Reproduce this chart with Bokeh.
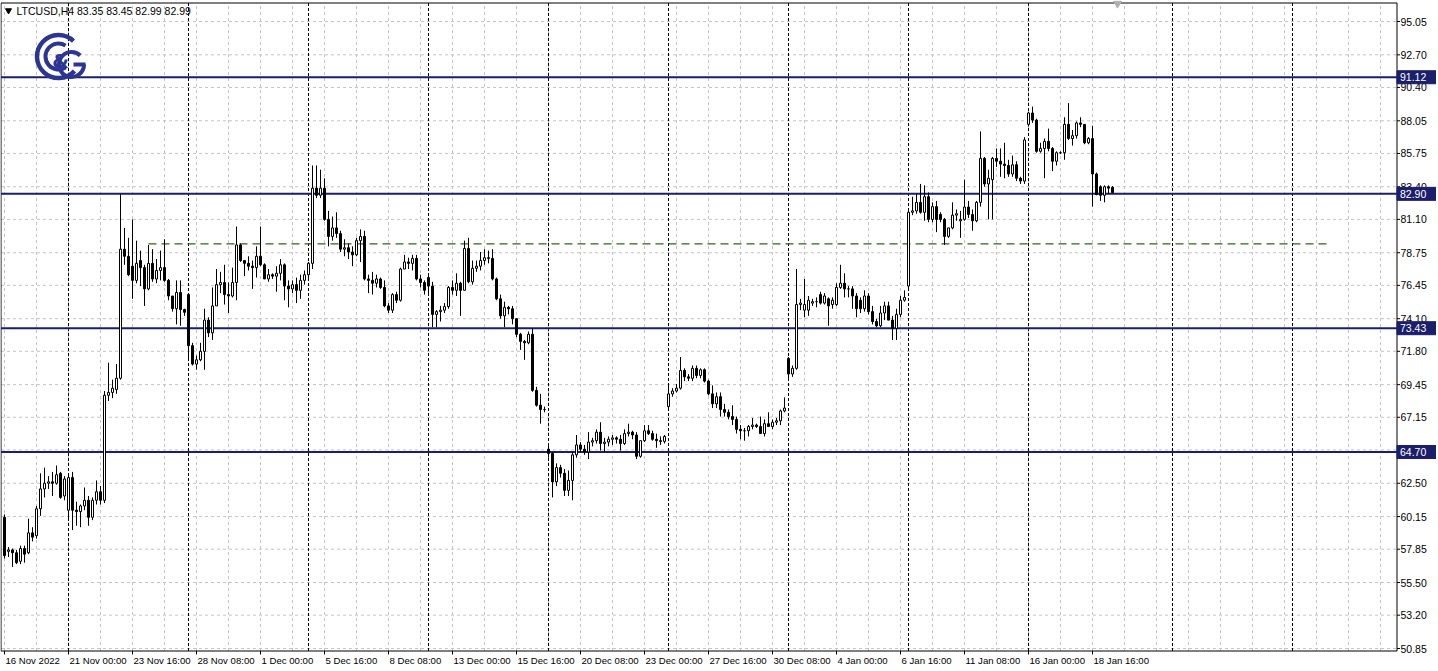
from bokeh.plotting import figure
from bokeh.models import ColumnDataSource, Range1d
from bokeh.embed import file_html
from bokeh.resources import INLINE
from bokeh.core.properties import value

# ---------------- data (LTCUSD, H4) ----------------
opens = [
    60.1, 57.7, 57.8, 57.6, 57.0, 57.9, 57.6, 59.0, 58.8, 60.7,
    62.1, 62.5, 62.6, 62.5, 63.2, 61.6, 60.6, 62.9, 60.6, 60.5,
    60.9, 61.3, 60.1, 61.3, 61.9, 61.3, 68.7, 68.9, 69.1, 69.9,
    79.0, 78.5, 77.8, 76.8, 78.2, 77.7, 76.2, 78.0, 76.9, 77.5,
    77.7, 76.8, 75.7, 74.8, 75.95, 74.75, 75.8, 72.2, 70.9, 71.2,
    71.8, 74.0, 73.1, 75.0, 76.5, 76.65, 75.8, 75.7, 76.65, 79.3,
    78.2, 78.0, 77.8, 77.7, 78.5, 77.9, 76.9, 77.2, 77.1, 77.3,
    77.9, 76.4, 76.2, 76.5, 76.1, 76.8, 77.2, 78.0, 83.3, 82.8,
    83.3, 81.1, 79.9, 80.5, 80.1, 79.0, 79.1, 78.8, 78.6, 79.6,
    79.9, 76.9, 76.8, 76.6, 76.9, 76.3, 75.0, 74.7, 75.8, 75.4,
    77.6, 78.1, 78.0, 78.35, 76.9, 76.65, 77.0, 76.4, 74.4, 74.6,
    74.7, 74.95, 76.3, 76.1, 76.6, 76.1, 79.05, 76.7, 77.65, 77.8,
    78.2, 78.4, 78.35, 76.9, 75.5, 74.3, 74.9, 74.8, 74.1, 73.0,
    72.5, 72.4, 73.0, 69.05, 68.0, 67.7, 64.9, 64.6, 62.6, 63.6,
    63.2, 62.0, 62.7, 64.5, 65.2, 64.9, 64.7, 65.4, 65.5, 66.1,
    65.3, 65.4, 65.6, 65.7, 65.6, 65.3, 66.0, 66.1, 65.9, 64.4,
    65.5, 66.2, 66.0, 65.6, 65.5, 65.45, 67.9, 68.8, 69.0, 69.2,
    70.45, 70.0, 69.9, 70.6, 70.1, 70.5, 69.7, 68.8, 68.1, 68.6,
    67.7, 67.5, 67.2, 67.0, 66.3, 66.2, 66.2, 66.5, 66.6, 66.5,
    66.0, 66.7, 66.5, 66.8, 66.9, 67.6, 71.3, 70.2, 70.6, 75.1,
    74.7, 74.7, 75.2, 75.3, 75.8, 75.2, 75.5, 75.1, 75.1, 76.3,
    76.6, 76.2, 76.2, 75.7, 75.4, 74.8, 75.7, 74.6, 73.9, 73.6,
    74.5, 75.0, 74.0, 73.4, 74.4, 75.4, 76.4, 81.6, 81.7, 82.3,
    81.6, 82.7, 81.1, 82.0, 81.45, 81.1, 79.9, 80.5, 81.4, 81.0,
    81.1, 81.97, 81.45, 81.0, 82.3, 85.4, 83.6, 83.9, 85.4, 85.2,
    85.0, 84.9, 84.3, 84.95, 84.0, 83.8, 87.8, 88.6, 88.1, 85.9,
    86.1, 86.6, 86.1, 85.2, 85.8, 85.8, 87.8, 86.8, 87.0, 87.9,
    87.8, 86.5, 86.8, 84.3, 83.4, 82.8, 83.4, 83.35,
]
highs = [
    60.3, 58.0, 57.9, 57.8, 58.1, 58.1, 60.0, 59.4, 60.9, 63.2,
    63.6, 63.0, 63.3, 63.75, 63.3, 63.0, 63.2, 63.3, 61.2, 61.0,
    62.2, 61.6, 61.5, 62.7, 62.3, 69.0, 71.0, 69.8, 70.9, 82.9,
    80.5, 79.8, 81.1, 79.6, 78.9, 77.9, 79.3, 79.0, 78.3, 78.9,
    79.7, 76.9, 75.7, 76.8, 76.8, 74.8, 75.9, 72.4, 71.5, 72.4,
    74.8, 74.2, 76.3, 77.6, 77.4, 77.9, 76.65, 77.7, 80.6, 79.4,
    78.2, 78.5, 78.2, 79.2, 80.6, 78.0, 77.6, 77.3, 77.8, 78.3,
    78.0, 76.8, 76.8, 77.0, 77.2, 77.5, 78.1, 84.9, 84.9, 84.6,
    84.0, 81.7, 81.3, 81.6, 80.3, 79.7, 79.4, 79.2, 79.8, 80.4,
    80.3, 77.2, 77.4, 77.2, 77.0, 76.8, 75.2, 75.9, 76.0, 77.7,
    78.6, 78.4, 78.6, 78.6, 77.2, 76.8, 77.3, 76.7, 74.7, 75.0,
    75.2, 76.4, 76.8, 77.3, 76.7, 79.6, 79.8, 78.2, 78.2, 78.8,
    79.0, 78.9, 79.0, 77.0, 75.8, 75.3, 75.0, 75.0, 74.1, 73.1,
    72.6, 73.2, 73.4, 69.3, 68.8, 67.9, 65.2, 64.7, 63.9, 63.8,
    63.5, 63.4, 64.7, 65.9, 65.4, 65.2, 66.1, 65.7, 66.3, 66.8,
    65.7, 65.8, 65.9, 65.8, 65.9, 66.3, 66.7, 66.2, 66.1, 65.5,
    66.6, 66.6, 66.2, 66.0, 65.8, 65.9, 69.5, 69.2, 69.5, 71.4,
    70.6, 70.2, 70.8, 70.8, 70.6, 70.6, 69.8, 69.4, 68.9, 68.9,
    68.1, 67.7, 68.0, 67.2, 66.6, 66.4, 66.6, 67.1, 66.7, 67.2,
    67.0, 67.5, 67.0, 67.1, 67.7, 68.55, 71.4, 70.8, 77.6, 75.5,
    76.9, 75.7, 75.5, 75.6, 76.0, 75.9, 75.6, 75.6, 76.6, 77.9,
    77.3, 76.4, 76.4, 75.9, 75.6, 76.1, 75.9, 75.0, 74.1, 75.0,
    75.3, 75.3, 74.3, 74.8, 75.7, 76.1, 81.7, 82.7, 82.9, 83.6,
    83.5, 83.0, 82.3, 82.4, 81.6, 81.2, 80.5, 82.3, 81.8, 81.7,
    83.9, 82.4, 81.8, 82.4, 87.3, 85.5, 84.6, 85.5, 86.1, 86.1,
    86.5, 85.3, 85.6, 85.2, 84.1, 86.9, 88.7, 89.05, 88.2, 86.5,
    86.8, 87.5, 86.2, 85.9, 85.9, 88.3, 89.3, 87.4, 88.0, 88.3,
    87.8, 86.9, 87.7, 84.4, 83.5, 83.5, 83.5, 83.45,
]
lows = [
    57.2, 57.3, 56.6, 56.8, 56.8, 56.9, 57.5, 58.4, 58.6, 60.2,
    61.5, 62.1, 61.6, 62.4, 61.4, 61.3, 59.9, 59.2, 59.5, 59.4,
    60.6, 59.5, 59.9, 61.0, 61.0, 61.1, 68.3, 68.5, 68.8, 69.8,
    77.9, 77.1, 75.5, 76.6, 76.4, 75.0, 76.1, 76.7, 76.6, 76.8,
    76.7, 75.4, 74.6, 73.7, 73.6, 74.3, 71.2, 70.8, 70.5, 71.1,
    70.5, 72.8, 72.6, 75.0, 75.9, 75.1, 74.5, 75.6, 75.4, 78.1,
    77.1, 77.5, 76.2, 77.0, 77.8, 76.9, 76.7, 76.9, 76.0, 76.8,
    75.4, 74.9, 75.9, 75.2, 75.5, 76.5, 76.9, 77.6, 82.6, 82.6,
    81.0, 79.2, 79.6, 79.8, 78.8, 78.5, 78.3, 77.8, 78.5, 78.1,
    76.8, 75.9, 75.8, 76.3, 76.2, 74.9, 74.5, 74.5, 75.2, 75.3,
    77.6, 77.6, 77.5, 76.8, 76.3, 75.8, 75.9, 73.5, 73.5, 73.9,
    74.5, 74.8, 75.8, 75.7, 74.3, 76.1, 76.6, 76.5, 77.4, 77.5,
    77.9, 78.0, 76.8, 75.4, 74.1, 73.5, 74.4, 73.7, 72.8, 71.9,
    71.2, 72.3, 68.95, 67.9, 66.7, 67.5, 64.3, 61.5, 62.3, 62.9,
    61.6, 61.6, 61.3, 64.3, 64.7, 64.5, 64.2, 65.1, 65.3, 64.8,
    64.7, 65.1, 65.2, 65.3, 64.8, 65.2, 65.8, 65.6, 64.2, 64.3,
    65.4, 65.9, 65.5, 65.0, 65.2, 65.3, 67.8, 68.6, 68.9, 69.1,
    69.7, 69.7, 69.7, 69.9, 69.9, 69.6, 68.7, 67.8, 67.8, 67.2,
    67.2, 67.0, 66.6, 66.0, 65.6, 65.5, 65.8, 66.3, 66.4, 66.0,
    65.8, 66.5, 66.3, 66.6, 66.6, 67.5, 69.9, 70.0, 70.5, 74.7,
    74.2, 74.3, 75.0, 74.9, 75.1, 75.1, 73.6, 74.8, 75.0, 76.2,
    75.6, 75.6, 74.8, 74.2, 74.5, 74.6, 74.4, 73.7, 73.5, 73.5,
    74.0, 74.0, 72.6, 72.6, 74.2, 75.3, 76.2, 81.4, 81.5, 81.5,
    81.0, 80.9, 80.9, 80.2, 80.9, 79.3, 79.8, 80.4, 81.0, 79.8,
    81.0, 81.2, 80.3, 80.9, 82.0, 83.4, 81.1, 81.1, 84.8, 84.1,
    84.0, 84.1, 84.1, 83.8, 83.6, 83.6, 87.65, 87.9, 85.8, 85.8,
    84.0, 85.9, 84.5, 84.9, 85.7, 85.3, 86.7, 86.3, 86.8, 87.6,
    86.4, 86.4, 82.0, 82.8, 82.4, 82.3, 82.9, 82.99,
]
closes = [
    57.4, 57.8, 57.6, 56.9, 57.9, 57.5, 59.0, 58.7, 60.7, 62.1,
    62.5, 62.6, 62.5, 63.1, 61.5, 62.8, 62.9, 60.6, 60.5, 60.9,
    61.3, 60.1, 61.3, 61.9, 61.3, 68.7, 68.9, 69.2, 69.9, 79.0,
    78.5, 77.2, 76.8, 78.0, 77.7, 76.2, 78.0, 76.9, 77.5, 77.7,
    76.8, 75.7, 74.8, 75.95, 74.75, 74.55, 72.2, 70.9, 71.2, 71.8,
    74.0, 73.1, 75.0, 76.5, 76.65, 75.8, 75.7, 76.65, 79.3, 78.2,
    78.0, 77.8, 77.7, 78.5, 77.9, 76.9, 77.2, 77.1, 77.3, 77.9,
    76.4, 76.2, 76.5, 76.1, 76.8, 77.2, 78.0, 83.3, 82.8, 83.3,
    81.1, 79.9, 80.5, 80.1, 79.0, 79.1, 78.8, 78.6, 79.6, 79.9,
    76.9, 76.8, 76.6, 76.9, 76.3, 75.0, 74.7, 75.8, 75.4, 77.6,
    78.1, 78.0, 78.35, 76.9, 76.65, 76.1, 76.4, 74.4, 74.6, 74.7,
    74.95, 76.3, 76.1, 76.6, 76.1, 79.05, 76.7, 77.65, 77.8, 78.2,
    78.4, 78.35, 76.9, 75.5, 74.3, 74.9, 74.8, 74.1, 73.0, 72.5,
    72.4, 73.0, 69.05, 68.0, 67.7, 67.7, 64.6, 62.6, 63.6, 63.2,
    62.0, 62.7, 64.5, 65.2, 64.9, 64.7, 65.4, 65.5, 66.1, 65.3,
    65.4, 65.6, 65.7, 65.6, 65.3, 66.0, 66.1, 65.9, 64.4, 65.5,
    66.2, 66.0, 65.6, 65.5, 65.45, 65.8, 68.8, 69.0, 69.2, 70.45,
    70.0, 69.9, 70.6, 70.1, 70.5, 69.7, 68.8, 68.1, 68.6, 67.7,
    67.5, 67.2, 67.0, 66.3, 66.2, 66.2, 66.5, 66.6, 66.5, 66.0,
    66.7, 66.5, 66.8, 66.9, 67.6, 67.8, 70.2, 70.6, 75.1, 75.2,
    75.1, 75.4, 75.3, 75.3, 75.2, 75.7, 75.0, 75.4, 76.3, 76.6,
    76.2, 76.2, 75.7, 74.8, 74.8, 75.7, 74.6, 73.9, 73.6, 74.5,
    75.0, 74.0, 73.4, 74.4, 75.4, 75.6, 81.6, 81.7, 82.3, 81.6,
    82.7, 81.1, 82.0, 81.1, 81.1, 79.9, 80.5, 81.4, 81.5, 81.1,
    81.97, 81.45, 81.0, 82.3, 85.4, 83.6, 84.0, 85.4, 85.2, 85.0,
    84.9, 84.3, 84.95, 84.0, 83.8, 86.7, 88.6, 88.1, 85.9, 86.1,
    86.6, 86.1, 85.2, 85.8, 85.8, 87.8, 86.8, 87.0, 87.9, 87.8,
    86.5, 86.8, 84.3, 82.85, 82.8, 83.4, 83.3, 82.99,
]

x_tick_bars = [0, 16, 32, 48, 64, 80, 96, 112, 128, 144, 160, 176, 192, 208, 224, 240, 256, 272]
x_tick_labels = ["16 Nov 2022", "21 Nov 00:00", "23 Nov 16:00", "28 Nov 08:00", "1 Dec 00:00",
                 "5 Dec 16:00", "8 Dec 08:00", "13 Dec 00:00", "15 Dec 16:00", "20 Dec 08:00",
                 "23 Dec 00:00", "27 Dec 16:00", "30 Dec 08:00", "4 Jan 00:00", "6 Jan 16:00",
                 "11 Jan 08:00", "16 Jan 00:00", "18 Jan 16:00"]
y_tick_labels = ["50.85", "53.20", "55.50", "57.85", "60.15", "62.50", "64.85", "67.15", "69.45",
                 "71.80", "74.10", "76.45", "78.75", "81.10", "83.40", "85.75", "88.05", "90.40",
                 "92.70", "95.05"]
levels = [91.12, 82.90, 73.43, 64.70]
level_labels = ["91.12", "82.90", "73.43", "64.70"]
target_level = 79.37
target_from_bar, target_to_bar = 36, 331
week_start_bars = [16, 46, 76, 106, 136, 166, 196, 226, 256, 292, 322]
grid_bars = list(range(0, 349, 8))
symbol_text = "LTCUSD,H4  83.35 83.45 82.99 82.99"

# ---------------- layout / styling ----------------
NAVY = "#1b1e6a"
LOGO = "#2c3594"
GRID = "#c4c4c4"
FONT = "Liberation Sans"

W, H = 1436, 668
PX_PER_BAR = 4.0
PX_PER_UNIT = 627.0 / 44.2
Y_AT_TOP = 95.05 + 21.0 / PX_PER_UNIT


def fx(px):          # pixel column -> bar coordinate
    return -1.0 + px / PX_PER_BAR


def fy(py):          # pixel row -> price coordinate
    return Y_AT_TOP - py / PX_PER_UNIT


XL, XR = fx(0.5), fx(1396.5)      # chart left border / price-scale line
YT, YB = fy(2.5), fy(650.5)       # chart top border / time-scale line

p = figure(width=W, height=H, x_range=Range1d(fx(0), fx(W)), y_range=Range1d(fy(H), fy(0)),
           x_axis_type=None, y_axis_type=None, output_backend="svg", toolbar_location=None,
           min_border=0, min_border_left=0, min_border_right=0, min_border_top=0,
           min_border_bottom=0)
p.background_fill_color = "white"
p.border_fill_color = "white"
p.outline_line_color = None

# grid
p.segment(x0=grid_bars, x1=grid_bars, y0=[YB] * len(grid_bars), y1=[YT] * len(grid_bars),
          line_color=GRID, line_dash="3 3", line_width=1)
y_ticks = [float(s) for s in y_tick_labels]
p.segment(x0=[XL] * len(y_ticks), x1=[XR] * len(y_ticks), y0=y_ticks, y1=y_ticks,
          line_color=GRID, line_dash="3 3", line_width=1)

# weekly separators
p.segment(x0=week_start_bars, x1=week_start_bars, y0=[YB] * len(week_start_bars),
          y1=[YT] * len(week_start_bars), line_color="black", line_dash="3 2", line_width=1)

# chart border and scales
p.segment(x0=[XL, XL, XR, XL], x1=[XR, XL, XR, XR], y0=[YT, YB, YB, YB], y1=[YT, YT, YT, YB],
          line_color="black", line_width=1)

# support / resistance levels
p.segment(x0=[XL] * len(levels), x1=[XR] * len(levels), y0=levels, y1=levels,
          line_color=NAVY, line_width=2)

# dashed green target line
p.segment(x0=[target_from_bar], x1=[target_to_bar], y0=[target_level], y1=[target_level],
          line_color="#2c6614", line_dash="8 5", line_width=1.2)

# candles
n = len(closes)
idx = list(range(n))
up = [i for i in idx if closes[i] >= opens[i]]
dn = [i for i in idx if closes[i] < opens[i]]
p.segment(x0=idx, x1=idx, y0=lows, y1=highs, line_color="black", line_width=1)
src_up = ColumnDataSource(dict(x=up, top=[closes[i] for i in up], bottom=[opens[i] for i in up]))
src_dn = ColumnDataSource(dict(x=dn, top=[opens[i] for i in dn], bottom=[closes[i] for i in dn]))
p.vbar(x="x", top="top", bottom="bottom", width=0.5, source=src_up,
       fill_color="white", line_color="black", line_width=1)
p.vbar(x="x", top="top", bottom="bottom", width=0.5, source=src_dn,
       fill_color="black", line_color="black", line_width=1)

# price scale: ticks and labels
tick_len = 3.0 / PX_PER_BAR
p.segment(x0=[XR] * len(y_ticks), x1=[XR + tick_len] * len(y_ticks), y0=y_ticks, y1=y_ticks,
          line_color="black", line_width=1)
p.text(x=[fx(1400)] * len(y_ticks), y=y_ticks, text=y_tick_labels, text_align="left",
       text_baseline="middle", text_font=value(FONT), text_font_size="10.5px",
       text_color="black")

# price tags
tag_w = 40.0 / PX_PER_BAR
tag_h = 13.0 / PX_PER_UNIT
p.rect(x=[XR + tag_w / 2] * len(levels), y=levels, width=tag_w, height=tag_h,
       fill_color=NAVY, line_color=NAVY)
p.text(x=[fx(1399.5)] * len(levels), y=levels, text=level_labels, text_align="left",
       text_baseline="middle", text_font=value(FONT), text_font_size="10.5px",
       text_color="white")

# time scale: ticks and labels
p.segment(x0=x_tick_bars, x1=x_tick_bars, y0=[YB] * len(x_tick_bars),
          y1=[fy(654)] * len(x_tick_bars), line_color="black", line_width=1)
p.text(x=x_tick_bars, y=[fy(654)] * len(x_tick_bars), text=x_tick_labels, x_offset=1,
       text_align="left", text_baseline="top", text_font=value(FONT),
       text_font_size="9.6px", text_color="black")

# header
p.scatter(x=[fx(8)], y=[fy(10)], marker="inverted_triangle", size=6,
          fill_color="black", line_color="black")
p.text(x=[fx(16)], y=[fy(10)], text=[symbol_text], text_align="left",
       text_baseline="middle", text_font=value(FONT), text_font_size="10.5px",
       text_color="black")
p.scatter(x=[fx(1117)], y=[fy(3)], marker="inverted_triangle", size=8,
          fill_color="#b0b0b0", line_color="#b0b0b0")

# logo
cx, cy = fx(58), fy(56)
p.arc(x=[cx], y=[cy], radius=21.5, radius_units="screen", start_angle=0.8, end_angle=5.55,
      line_color=LOGO, line_width=4.5)
p.arc(x=[cx], y=[cy], radius=13.0, radius_units="screen", start_angle=1.0, end_angle=5.3,
      line_color=LOGO, line_width=4.0)
gx, gy = fx(71), fy(64)
p.arc(x=[gx], y=[gy], radius=12.5, radius_units="screen", start_angle=0.8, end_angle=6.283,
      line_color=LOGO, line_width=4.0)
p.segment(x0=[fx(73)], x1=[fx(85)], y0=[gy], y1=[gy], line_color=LOGO, line_width=4)
p.text(x=[fx(60)], y=[fy(60)], text=["&"], text_align="center", text_baseline="middle",
       text_font=value("DejaVu Sans"), text_font_size="19px", text_font_style="bold",
       text_color=LOGO)

open("out.html", "w").write(file_html(p, INLINE))
